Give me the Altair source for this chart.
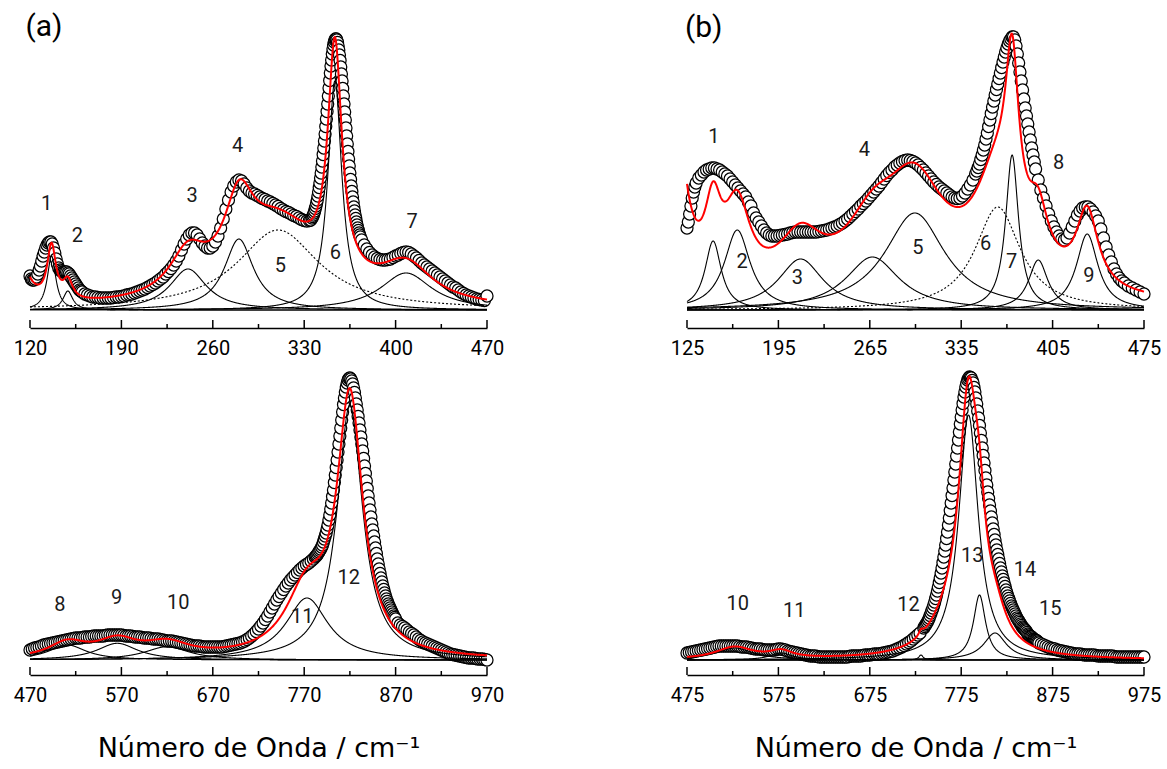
import numpy as np
import pandas as pd
import altair as alt

# ---------------- panel (a) top : 120-470 ----------------
A1_CENTERS = [136.5, 149, 241, 280, 310, 353.5, 408]
A1_HEIGHTS = [54, 19, 41, 71, 80, 229, 37]
A1_WIDTHS = [4, 4.5, 17, 13.5, 38, 6.5, 24]
A1_DOTTED = [0, 0, 0, 0, 1, 0, 0]
A1_HID_C = [110]
A1_HID_H = [64]
A1_HID_W = [8]
A1_OBS_X = (list(range(120, 161)) + list(range(162, 231, 2)) + list(range(232, 291, 2)) +
            list(range(292, 335, 2)) + [335] + [336 + 0.5 * k for k in range(75)] +
            list(range(374, 471, 2)))
A1_OBS_Y = [34,31,30,30,31,33,36,40,44,49,54,58,62,65,67,68,68,66,62,57,
            51,46,42,40,39,38,38,38,38,37,36,34,32,30,28,26,24,22,20,19,18,
            16,15,14,13,13,12.5,12,12,12,12,12,12.5,13,13,13.5,14,15,15.5,16,17,
            18,19,20,21,22.5,24,25.5,27,29,31,33,36,38.5,41.5,45,
            49,54,60,66,71,75,77,77,75,71,67,64,62,62,64,68,74,82,91,101,
            110,118,124,128,130,129,126,122,119,117,
            116,114.5,113,111.5,110.5,109,108,106.5,105,103.5,101.5,100,98.5,97.5,96,94.5,
            93.5,92,90.5,89.5,89,89.5,
            90,
            92,93.5,95,97,99,101.5,104,107,110,114,
            118,122.5,127,132,137,143,149,155.5,162,169,
            176,183.5,191,198.5,206,214,222,229.5,237,244,
            250,256,261,265,268,270,271,271,270,267.5,
            264,260,255,249.5,243,236,229,221.5,214,206,
            198,190,182,174,166,158.5,151,144,137,130.5,
            124,118.5,113,108,103,99,95,91.5,88,85,
            82,79.5,77,75,73,
            70,65,61,57.5,55,53,51.5,50.5,50,50,50.5,51,52.5,54,55,56.5,57.5,58,57.5,56,
            54,52,49.5,47,45,43,41,39,37,35,33,31,29,27,25,23,22,20,18,16.5,
            15,14,13,12,11,10.5,10,9.5,14]
A1_LAB_T = ["1", "2", "3", "4", "5", "6", "7"]
A1_LAB_X = [132.8, 156.3, 244.2, 279.1, 311.8, 353.9, 412.6]
A1_LAB_Y = [106, 74, 114, 164, 44, 57, 88]
A1_MAJOR = [120, 190, 260, 330, 400, 470]
A1_MINOR = [155, 225, 295, 365, 435]

# ---------------- panel (b) top : 125-475 ----------------
A2_CENTERS = [145, 163.5, 212, 267, 299.5, 363, 374, 394, 431.5]
A2_HEIGHTS = [69, 80, 51, 53, 97, 103, 155, 50, 76]
A2_WIDTHS = [7.5, 12, 21, 25, 28, 21, 6, 9, 10]
A2_DOTTED = [0, 0, 0, 0, 0, 1, 0, 0, 0]
A2_HID_C = [112, 330]
A2_HID_H = [330, 15]
A2_HID_W = [8.5, 120]
A2_OBS_X = (list(range(125, 133)) + list(range(134, 347, 2)) + list(range(347, 374)) +
            list(range(374, 393)) + list(range(394, 461, 2)) + list(range(463, 476, 3)))
A2_OBS_Y = [82,88,96,104,112,118,123,127,
            132,135,138,140,141,142,142,141,140,138,136,134,131,128,125,122,119,116,113,108,
            104,97,92,88,84,80,77,
            75,74,74,74,74.5,75,75.5,76,77,77.5,78,78,78,78,78,78,78,78,78,78.5,
            79,79.5,80,81,82,83,84,85.5,87,89,91,93.5,96,98.5,101,104,106.5,109,112,115,
            118,121,124,127.5,131,134.5,137.5,140,143,145,147,148.5,149.5,150,149.5,148.5,
            147,145,142.5,140,137,134,131,128,125.5,123,121,119,117,115,113,112,111.5,112,
            114,117,121,125,130,136,
            139,142.5,146,150.5,155,160,165,171,177,183.5,190,196.5,203,209,215,220.5,
            226,231.5,237,242.5,248,253,258,262,266,269,271,
            273,273,270,264,256,247,238,229,220,211,202,194,186,178,170,162,155,148,141,
            130,120,112,104,96,89,83,78,74,71,70,72,77,83,89,95,99,102,103,103,
            101,98,94,89,81,72,63,55,48,41,36,32,29,27,
            24,22,20,18,16]
A2_LAB_T = ["1", "2", "3", "4", "5", "6", "7", "8", "9"]
A2_LAB_X = [145.5, 167.3, 209.6, 260.9, 301.9, 353.7, 373.7, 409.6, 432.7]
A2_LAB_Y = [173, 48, 32, 160, 62, 66, 48, 147, 34]
A2_MAJOR = [125, 195, 265, 335, 405, 475]
A2_MINOR = [160, 230, 300, 370, 440]

# ---------------- panel (a) bottom : 470-970 ----------------
B1_CENTERS = [511, 565.5, 620, 773, 820]
B1_HEIGHTS = [15, 16.7, 13.3, 62, 255]
B1_WIDTHS = [25, 27, 30, 28, 17]
B1_DOTTED = [0, 0, 0, 0, 0]
B1_HID_C = []
B1_HID_H = []
B1_HID_W = []
B1_OBS_X = ([470 + 2.5 * k for k in range(125)] + list(range(782, 871)) +
            [872.5 + 2.5 * k for k in range(40)])
B1_OBS_Y = [10,11,12,12.5,13,14,15,15.5,16,16.5,17,17.5,18,18.5,19,19.5,20,20.5,21,21.5,
            22,22,22,22.5,23,23,23,23.5,24,24,24,24,24,24.5,25,25,25,25,25,25,
            25,24.5,24,24,24,23.5,23,23,23,22.5,22,22,22,21.5,21,21,21,20.5,20,19.5,
            19,19,19,18.5,18,17.5,17,16.5,16,15.5,15,14.5,14,14,14,13.5,13,13,13,13,
            13,13,13,13,13,13.5,14,14.5,15,15.5,16,16.5,17,18,19,20.5,22,24,26,28.5,
            31,34,37,40.5,44,48,52,56,60,63.5,67,70.5,74,77,80,82.5,85,87.5,90,92,
            94,95.5,97,99,101,
            103,104,105,106.5,108,109.5,111,113,115,118,
            121,124,127,131,135,140,145,151,157,163.5,
            170,177.5,185,192.5,200,208,216,224,232,240,
            248,255.5,262,268,273,277,280,281.5,282,281,
            279,276,272,267.5,262,256,250,243.5,237,230,
            223,216,209,201.5,194,186.5,179,171.5,164,157,
            150,143,136,130,124,118,112,106.5,101,96,
            91,86.5,82,78,74,70.5,67,64,61,58.5,
            56,54,52,50,48,46,44,42.5,41,
            37,35,33.5,32,30,28,26.5,25,23,21,19.5,18,17,16,15,14,13,12,11,10,
            9,8,7,6,5.5,5,4.5,4,3.5,3,2.5,2,2,2,1.5,1,1,1,0.5,0]
B1_LAB_T = ["8", "9", "10", "11", "12"]
B1_LAB_X = [502.8, 564.8, 632.2, 767.8, 818.7]
B1_LAB_Y = [55, 62, 57, 43, 82]
B1_MAJOR = [470, 570, 670, 770, 870, 970]
B1_MINOR = [520, 620, 720, 820, 920]

# ---------------- panel (b) bottom : 475-975 ----------------
B2_CENTERS = [527, 578, 731, 783, 795, 812]
B2_HEIGHTS = [12, 7, 5, 245, 65, 27]
B2_WIDTHS = [25, 15, 3, 13, 8, 15]
B2_DOTTED = [0, 0, 0, 0, 0, 0]
B2_HID_C = [760]
B2_HID_H = [22]
B2_HID_W = [25]
B2_OBS_X = ([475 + 2.5 * k for k in range(103)] + list(range(734, 861)) +
            [862.5 + 2.5 * k for k in range(46)])
B2_OBS_Y = [7,7.5,8,8.5,9,9.5,10,10.5,11,11.5,12,12.5,13,13.5,14,14,14,14,14,14,
            14,14,14,13.5,13,13,13,12.5,12,11.5,11,11,11,10.5,10,10,10,10,10,10.5,
            11,11,10.5,10,9,8.5,8,7.5,7,6.5,6,5.5,5,4.5,4,4,4,3.5,3,3,
            3,3,3,3,3,3,3,3,3,3,3,3.5,4,4,4,4,4,4.5,5,5,
            5,5.5,6,6,6,6.5,7,7.5,8,8.5,9,10,11,12,13,14.5,16,17.5,19,21,
            23,25,27,
            32,33.5,35,36.5,38,40,42,44.5,47,49.5,
            52,55,58,61.5,65,69,73,77.5,82,87,
            92,97.5,103,109,115,121.5,128,135,142,149.5,
            157,164.5,172,180,188,196,204,212,220,228,
            236,243,250,256.5,263,268,273,276.5,280,281.5,
            283,282.5,282,279.5,277,272.5,268,262,256,249,
            242,234.5,227,219.5,212,204.5,197,189.5,182,175,
            168,161.5,155,149,143,137,131,125.5,120,115,
            110,105.5,101,96.5,92,88,84,80.5,77,73.5,
            70,67,64,61.5,59,56.5,54,52,50,48,
            46,44,42,40.5,39,37.5,36,34.5,33,32,
            31,30,29,27.5,26,25,24,23.5,23,22,
            21,20.5,20,19.5,19,18,17,
            16,15,14,13,12,11.5,11,10,9.5,9,8.5,8,7.5,7,6.5,6,6,6,5.5,5,
            5,5,5,5,4.5,4,4,4,4,4,4,4,3.5,3,3,3,3,3,3,3,
            3,3,3,3,3,3]
B2_LAB_T = ["10", "11", "12", "13", "14", "15"]
B2_LAB_X = [530.6, 592.2, 717.4, 787.1, 844.9, 872.4]
B2_LAB_Y = [56, 49, 55, 104, 90, 51]
B2_MAJOR = [475, 575, 675, 775, 875, 975]
B2_MINOR = [525, 625, 725, 825, 925]

W = 457
H_TOP = 318
H_BOT = 310
TITLE = "Número de Onda / cm⁻¹"


def lorentz(x, c, h, w):
    return h / (1.0 + ((x - c) / w) ** 2)


def panel(xmin, xmax, ymin, ymax, H, centers, heights, widths, dotted,
          hid_c, hid_h, hid_w, obs_x, obs_y, lab_x, lab_y, lab_t,
          majors, minors, tag=None, tag_x=None, tag_y=None, title=None):
    grid = np.arange(xmin, xmax + 1e-9, 0.25)
    comp_rows = []
    total = np.zeros_like(grid)
    for i, (c, h, w, d) in enumerate(zip(centers, heights, widths, dotted)):
        yv = lorentz(grid, c, h, w)
        total += yv
        comp_rows.append(pd.DataFrame({"x": grid, "y": yv, "comp": i, "dotted": d}))
    for c, h, w in zip(hid_c, hid_h, hid_w):
        total += lorentz(grid, c, h, w)
    comps = pd.concat(comp_rows, ignore_index=True)
    fit = pd.DataFrame({"x": grid, "y": total})
    obs = pd.DataFrame({"x": obs_x, "y": obs_y, "order": range(len(obs_x))})
    labs = pd.DataFrame({"x": lab_x, "y": lab_y, "t": lab_t})
    maj = pd.DataFrame({"x": majors})
    mnr = pd.DataFrame({"x": minors})

    axis_kw = dict(values=majors, ticks=False, tickSize=0, domain=True,
                   domainColor="black", domainWidth=1.5, grid=False,
                   labelFont="Roboto", labelFontSize=20, labelColor="black",
                   labelPadding=10, labelFlush=False, labelOverlap=False,
                   format="d")
    if title:
        axis = alt.Axis(title=title, titleFont="DejaVu Sans", titleFontSize=27,
                        titleFontWeight="normal", titleColor="black",
                        titlePadding=30, **axis_kw)
    else:
        axis = alt.Axis(title=None, **axis_kw)
    xs = alt.Scale(domain=[xmin, xmax], nice=False, zero=False)
    ys = alt.Scale(domain=[ymin, ymax], nice=False, zero=False)
    X = alt.X("x:Q", scale=xs, axis=axis)
    Y = alt.Y("y:Q", scale=ys, axis=None)

    pts = alt.Chart(obs).mark_point(shape="circle", size=145, fill="white",
                                    fillOpacity=1, stroke="black",
                                    strokeWidth=1.25, opacity=1).encode(
        x=X, y=Y, order="order:Q")
    solid = alt.Chart(comps[comps.dotted == 0]).mark_line(
        color="black", strokeWidth=1.1).encode(x=X, y=Y, detail="comp:N")
    layers = [pts, solid]
    if (comps.dotted == 1).any():
        dot = alt.Chart(comps[comps.dotted == 1]).mark_line(
            color="black", strokeWidth=1.1, strokeDash=[2, 2]).encode(
            x=X, y=Y, detail="comp:N")
        layers.append(dot)
    red = alt.Chart(fit).mark_line(color="#ff0000", strokeWidth=2).encode(x=X, y=Y)
    txt = alt.Chart(labs).mark_text(font="Roboto", fontSize=20, color="#1a1a1a").encode(
        x=X, y=Y, text="t:N")
    tmaj = alt.Chart(maj).mark_rule(color="black", strokeWidth=1.5).encode(
        x=X, y=alt.value(H), y2=alt.value(H - 8))
    tmin = alt.Chart(mnr).mark_rule(color="black", strokeWidth=1.5).encode(
        x=X, y=alt.value(H), y2=alt.value(H - 4))
    layers += [red, txt, tmaj, tmin]
    if tag:
        tg = alt.Chart(pd.DataFrame({"x": [tag_x], "y": [tag_y], "t": [tag]})).mark_text(
            font="Roboto", fontSize=30, color="black").encode(x=X, y=Y, text="t:N")
        layers.append(tg)
    return alt.layer(*layers).properties(width=W, height=H)


tl = panel(120, 470, -18, 300, H_TOP, A1_CENTERS, A1_HEIGHTS, A1_WIDTHS, A1_DOTTED,
           A1_HID_C, A1_HID_H, A1_HID_W, A1_OBS_X, A1_OBS_Y,
           A1_LAB_X, A1_LAB_Y, A1_LAB_T, A1_MAJOR, A1_MINOR, "(a)", 130.7, 283)
tr = panel(125, 475, -18, 300, H_TOP, A2_CENTERS, A2_HEIGHTS, A2_WIDTHS, A2_DOTTED,
           A2_HID_C, A2_HID_H, A2_HID_W, A2_OBS_X, A2_OBS_Y,
           A2_LAB_X, A2_LAB_Y, A2_LAB_T, A2_MAJOR, A2_MINOR, "(b)", 137.8, 282)
bl = panel(470, 970, -15, 295, H_BOT, B1_CENTERS, B1_HEIGHTS, B1_WIDTHS, B1_DOTTED,
           B1_HID_C, B1_HID_H, B1_HID_W, B1_OBS_X, B1_OBS_Y,
           B1_LAB_X, B1_LAB_Y, B1_LAB_T, B1_MAJOR, B1_MINOR, title=TITLE)
br = panel(475, 975, -15, 295, H_BOT, B2_CENTERS, B2_HEIGHTS, B2_WIDTHS, B2_DOTTED,
           B2_HID_C, B2_HID_H, B2_HID_W, B2_OBS_X, B2_OBS_Y,
           B2_LAB_X, B2_LAB_Y, B2_LAB_T, B2_MAJOR, B2_MINOR, title=TITLE)

chart = alt.concat(
    tl, tr, bl, br, columns=2,
    spacing=alt.RowColnumber(row=37, column=200),
    bounds="flush",
).properties(
    padding={"left": 13, "top": 10, "right": 0, "bottom": 0},
    background="white",
).configure_view(stroke=None)

chart.save("out.html", embed_options={"renderer": "svg", "actions": False})
